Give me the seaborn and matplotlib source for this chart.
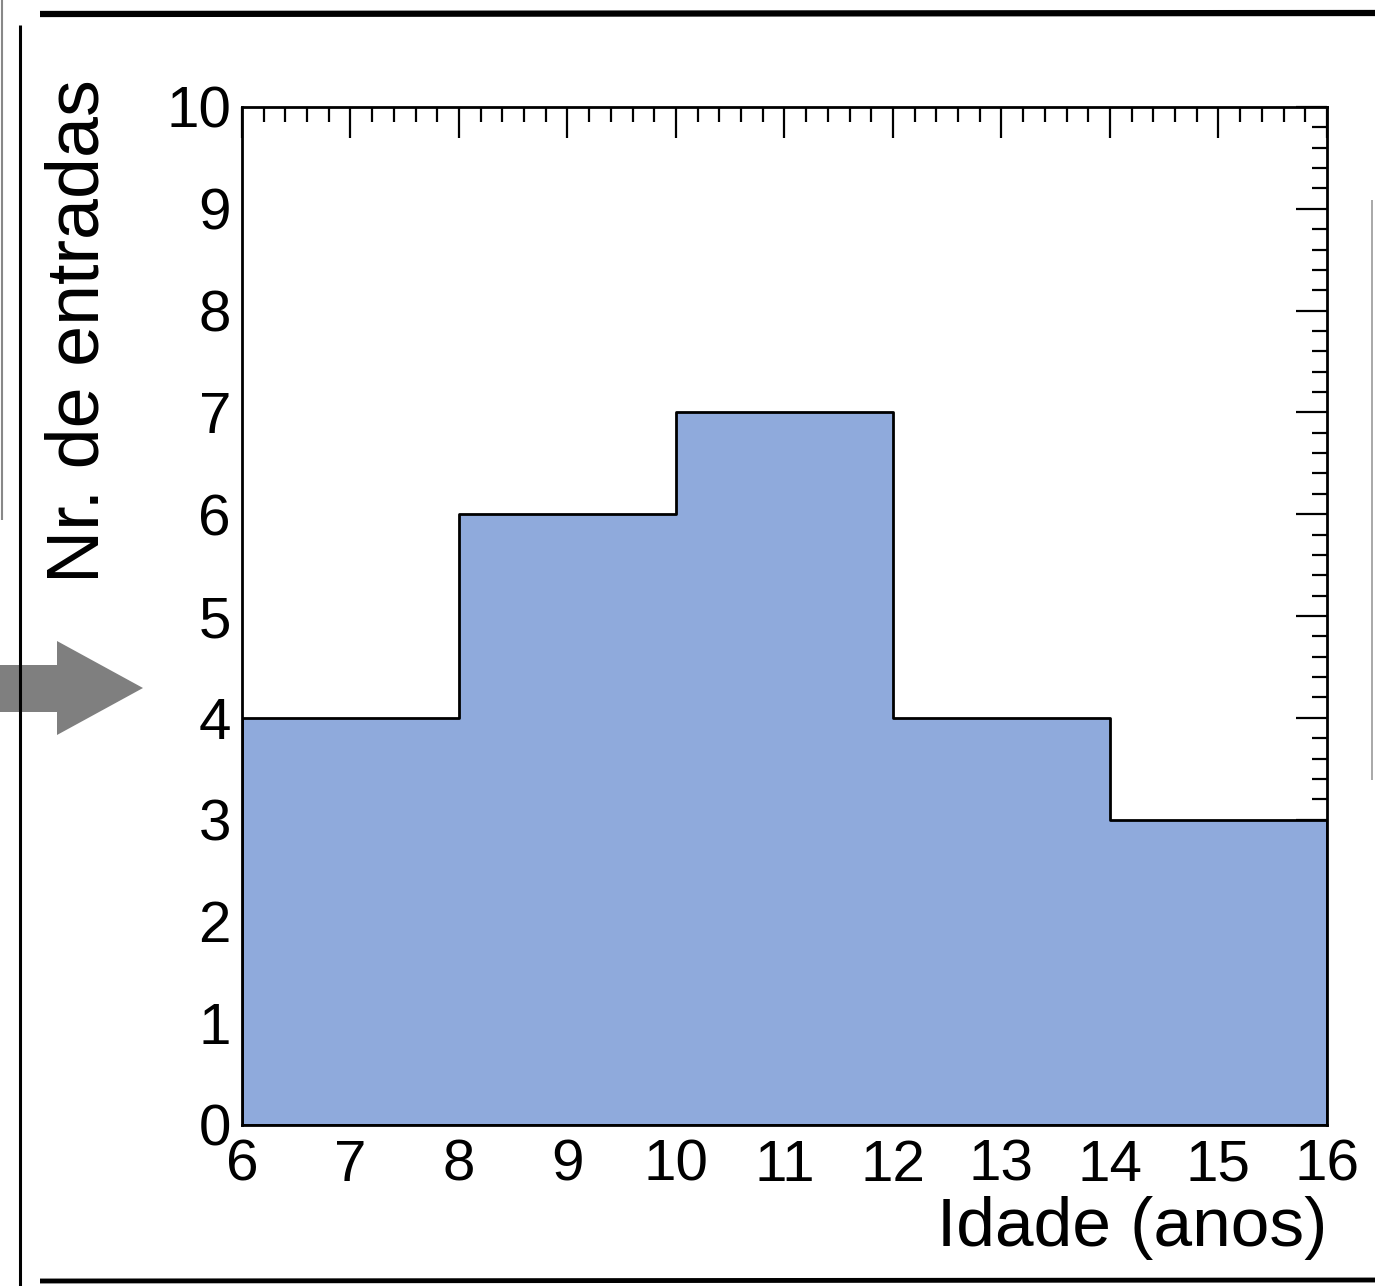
import numpy as np
import pandas as pd
import matplotlib
matplotlib.use("Agg")
import matplotlib.pyplot as plt
from matplotlib.patches import Polygon
from matplotlib.lines import Line2D
from matplotlib.ticker import MultipleLocator
import seaborn as sns

# ---- data ----
bin_edges = [6, 8, 10, 12, 14, 16]
bin_centers = [7, 9, 11, 13, 15]
counts = [4, 6, 7, 4, 3]
x_label = "Idade (anos)"
y_label = "Nr. de entradas"

W, H = 1375, 1286
sns.set_style("white")
plt.rcParams["font.family"] = ["Liberation Sans", "DejaVu Sans"]
plt.rcParams["text.color"] = "black"
plt.rcParams["axes.labelcolor"] = "black"
plt.rcParams["xtick.color"] = "black"
plt.rcParams["ytick.color"] = "black"

fig = plt.figure(figsize=(W / 100, H / 100), dpi=100)
L, R, T, B = 242, 1327, 107, 1125
ax = fig.add_axes([L / W, 1 - B / H, (R - L) / W, (B - T) / H])

df = pd.DataFrame({"age": bin_centers, "n": counts})
sns.histplot(data=df, x="age", weights="n", bins=bin_edges, element="step",
             fill=True, color="#8FAADC", alpha=1.0, edgecolor="black",
             linewidth=2, ax=ax)

ax.set_xlim(6, 16)
ax.set_ylim(0, 10)
ax.xaxis.set_major_locator(MultipleLocator(1))
ax.xaxis.set_minor_locator(MultipleLocator(0.2))
ax.yaxis.set_major_locator(MultipleLocator(1))
ax.yaxis.set_minor_locator(MultipleLocator(0.2))
ax.tick_params(which="both", direction="in", top=True, right=True,
               color="black", width=1.6)
ax.tick_params(which="major", length=22, labelsize=42, labelcolor="black")
ax.tick_params(which="minor", length=11)
ax.tick_params(axis="x", which="major", pad=10)
ax.tick_params(axis="y", which="major", pad=8)
for s in ax.spines.values():
    s.set_color("black")
    s.set_linewidth(2)

ax.set_xlabel(x_label, fontsize=50, loc="right", color="black")
ax.xaxis.set_label_coords(1.0, -0.07)
ax.set_ylabel(y_label, fontsize=53, loc="top", color="black")
ax.yaxis.set_label_coords(-0.118, 1.027)


def px(x, y):
    return (x / W, 1 - y / H)


# decorative sketch frame
def fline(xs, ys, lw, color="black"):
    pts = [px(a, b) for a, b in zip(xs, ys)]
    fig.add_artist(Line2D([p[0] for p in pts], [p[1] for p in pts],
                          transform=fig.transFigure, lw=lw, color=color,
                          solid_capstyle="butt"))


fline([40, 1375], [14, 13], 4.5)
fline([20, 20], [25, 1286], 2.2)
fline([40, 1375], [1281, 1280], 3.5)
fline([1.5, 1.5], [0, 520], 1.5, "#888888")
fline([1372, 1372], [200, 780], 1.2, "#999999")

# gray arrow
arrow_pts = [(0, 665), (57, 665), (57, 641), (143, 688), (57, 735),
             (57, 712), (0, 712)]
fig.add_artist(Polygon([px(a, b) for a, b in arrow_pts], closed=True,
                       transform=fig.transFigure, facecolor="#7f7f7f",
                       edgecolor="none"))

fig.savefig("out.png", dpi=100)
